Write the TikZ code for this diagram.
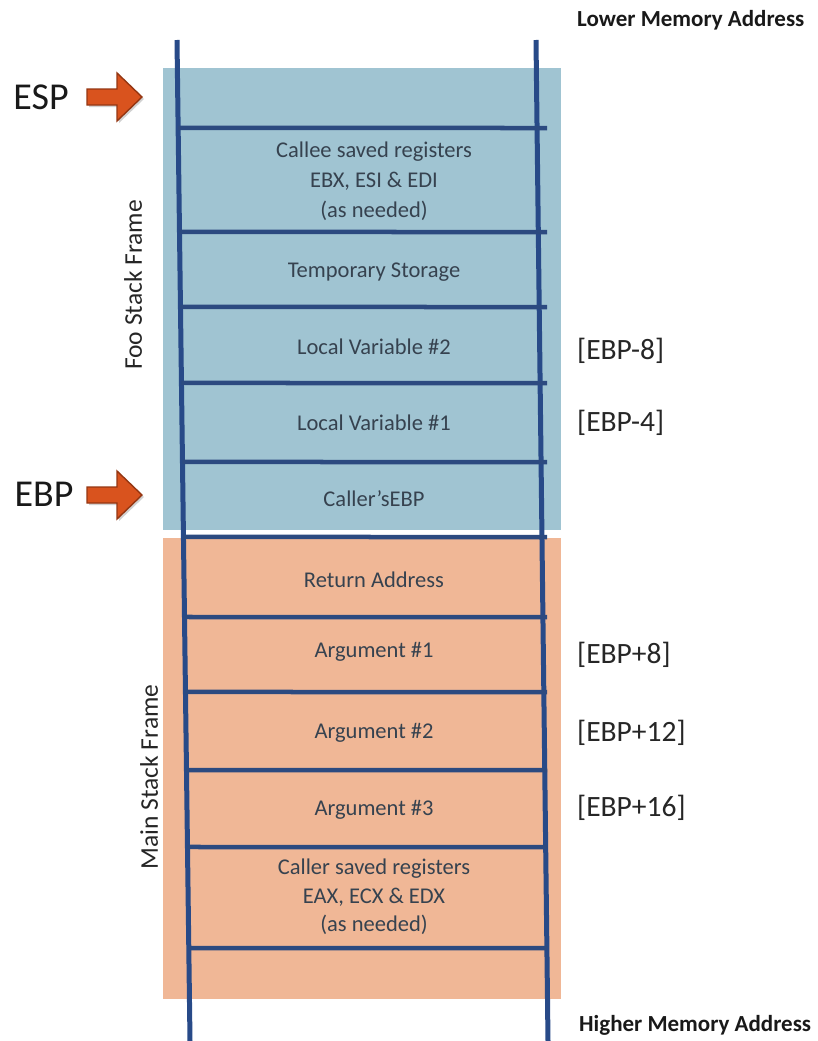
\documentclass[tikz,border=0pt]{standalone}
\usepackage{fontspec}
\setmainfont{Carlito}
\usetikzlibrary{calc}

\definecolor{fooblue}{HTML}{A0C4D2}
\definecolor{mainorange}{HTML}{F0B796}
\definecolor{rail}{HTML}{284A88}
\definecolor{rungcol}{HTML}{2C4A80}
\definecolor{celltext}{HTML}{36424F}
\definecolor{ptrfill}{HTML}{D9531E}
\definecolor{ptredge}{HTML}{943612}

\tikzset{
  railline/.style={rail, line width=5pt},
  rungline/.style={rungcol, line width=4.5pt},
  celllabel/.style={text=celltext, align=center, inner sep=0pt,
    font=\fontsize{22.5}{30}\selectfont},
  offsetlabel/.style={text=black!85, anchor=west, inner sep=0pt,
    font=\fontsize{29.5}{34}\selectfont},
  reglabel/.style={text=black!90, inner sep=0pt,
    font=\fontsize{38}{44}\selectfont},
  framelabel/.style={text=black!85, rotate=90, inner sep=0pt,
    font=\fontsize{25.5}{30}\selectfont},
  addrlabel/.style={text=black!90, anchor=base west, inner sep=0pt,
    font=\bfseries\fontsize{23}{26}\selectfont},
  pointer/.pic={
    % soft shadow under the block arrow
    \fill[black, opacity=0.18]
      (-53,-6) -- (-23,-6) -- (-23,-22) -- (2,2) -- (-23,26) -- (-23,10)
      -- (-53,10) -- cycle;
    \filldraw[fill=ptrfill, draw=ptredge, line width=1.4pt, line join=miter]
      (-55,-8) -- (-25,-8) -- (-25,-24) -- (0,0) -- (-25,24) -- (-25,8)
      -- (-55,8) -- cycle;
  }
}

\begin{document}
\begin{tikzpicture}[x=1pt, y=-1pt]
\useasboundingbox (0,0) rectangle (818,1041);

% stack frame backgrounds
\fill[fooblue] (163,68) rectangle (561,530);
\fill[mainorange] (163,538) rectangle (561,999);

% the two rails
\coordinate (lt) at (177,40);
\coordinate (lb) at (190,1041);
\coordinate (rt) at (536,40);
\coordinate (rb) at (548,1041);
\draw[railline] (lt) -- (lb);
\draw[railline] (rt) -- (rb);

% rungs separating the slots
\foreach \y [count=\i] in {128,232,307,383,462,537,617,692,770,847,948} {
  \pgfmathsetmacro{\t}{(\y-40)/1001}
  \coordinate (rl\i) at ($(lt)!\t!(lb)$);
  \coordinate (rr\i) at (547,\y);
  \draw[rungline] (rl\i) -- (rr\i);
}

% slot contents
\node[celllabel] (callee) at (374,181) {Callee saved registers\\EBX, ESI \& EDI\\(as needed)};
\node[celllabel] (temp)   at (374,272) {Temporary Storage};
\node[celllabel] (lv2)    at (374,347) {Local Variable \#2};
\node[celllabel] (lv1)    at (374,423) {Local Variable \#1};
\node[celllabel] (oldebp) at (374,499) {Caller’sEBP};
\node[celllabel] (ret)    at (374,580) {Return Address};
\node[celllabel] (arg1)   at (374,652) {Argument \#1};
\node[celllabel] (arg2)   at (374,733) {Argument \#2};
\node[celllabel] (arg3)   at (374,810) {Argument \#3};
\node[celllabel, font=\fontsize{22.5}{28.5}\selectfont] (caller) at (374,897)
  {Caller saved registers\\EAX, ECX \& EDX\\(as needed)};

% frame offsets
\node[offsetlabel] (m8)  at (577,351) {[EBP-8]};
\node[offsetlabel] (m4)  at (577,423) {[EBP-4]};
\node[offsetlabel] (p8)  at (577,655) {[EBP+8]};
\node[offsetlabel] (p12) at (577,733) {[EBP+12]};
\node[offsetlabel] (p16) at (577,808) {[EBP+16]};

% frame names
\node[framelabel] (foo)  at (133,285) {Foo Stack Frame};
\node[framelabel] (main) at (149,777) {Main Stack Frame};

% register pointers
\node[reglabel] (esp) at (41,97) {ESP};
\pic at (142,97) {pointer};
\node[reglabel] (ebp) at (44,494) {EBP};
\pic at (142,495) {pointer};

% address direction
\node[addrlabel] (low)  at (577,27)   {Lower Memory Address};
\node[addrlabel] (high) at (579,1031) {Higher Memory Address};
\end{tikzpicture}
\end{document}
